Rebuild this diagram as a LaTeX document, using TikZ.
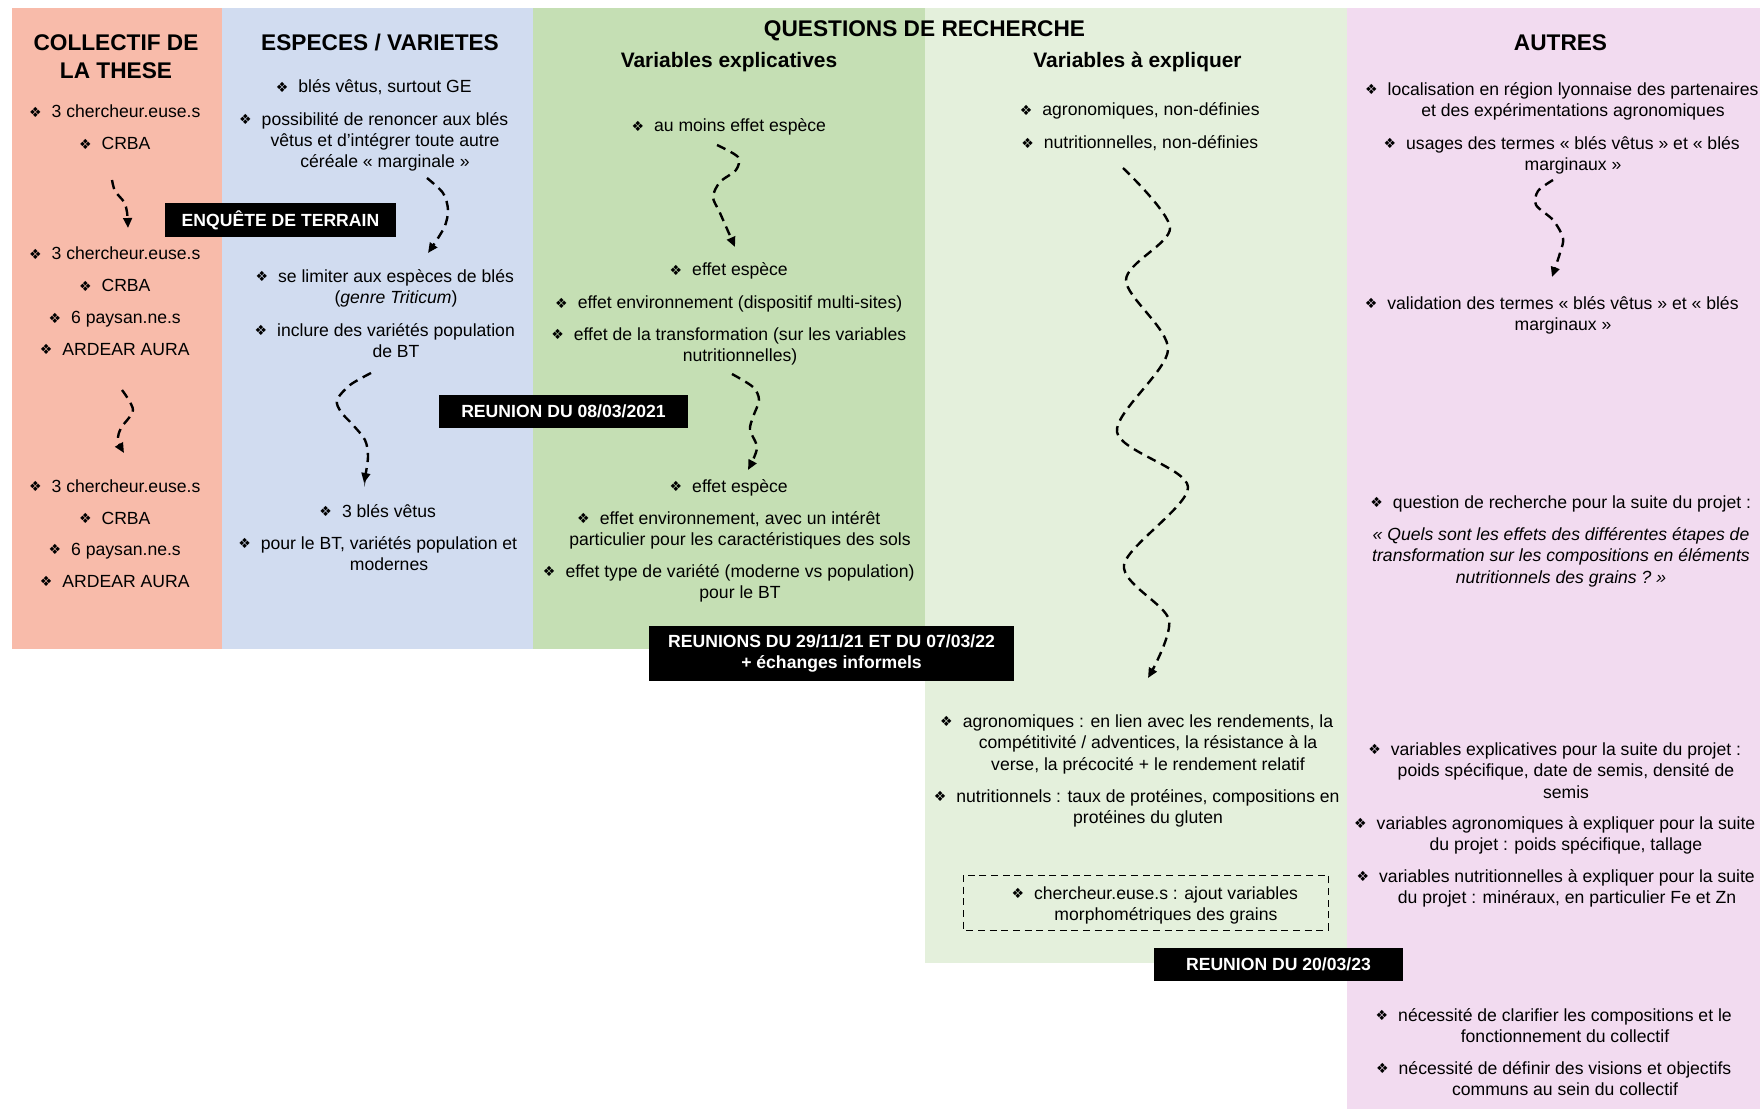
\documentclass[tikz,border=0pt]{standalone}
\usepackage{fontspec}
\setmainfont{Liberation Sans}
\newfontfamily\symfont{DejaVu Sans}
\usetikzlibrary{arrows.meta}

\definecolor{saumon}{HTML}{F8BBAA}
\definecolor{bleuclair}{HTML}{D1DCF0}
\definecolor{vertfonce}{HTML}{C5DFB4}
\definecolor{vertclair}{HTML}{E4F0DC}
\definecolor{rose}{HTML}{F2DBF0}

\begin{document}
\begin{tikzpicture}[x=0.75pt, y=-0.75pt,
    titre/.style={font=\fontsize{17}{21}\selectfont\bfseries, align=center, anchor=base, inner sep=0pt},
    soustitre/.style={font=\fontsize{15.7}{19}\selectfont\bfseries, anchor=base, inner sep=0pt},
    item/.style={font=\fontsize{13.2}{16.1}\selectfont, align=center, anchor=base, inner sep=0pt},
    etiquette/.style={fill=black, text=white, font=\fontsize{13.2}{16.1}\selectfont\bfseries, align=center, inner sep=0pt},
    fleche/.style={line width=1.8pt, dash pattern=on 7pt off 4.5pt, -{Triangle[length=7.5pt,width=6.5pt]}},
  ]

    \def\puce{\leavevmode\llap{\raisebox{0.3pt}{\symfont\fontsize{10.5}{10.5}\selectfont ❖}\hspace{7.5pt}}}

  \fill[white] (0,0) rectangle (1760,1109);
  \useasboundingbox (0,0) rectangle (1760,1109);

  % Colonnes
  \fill[saumon] (12,8) rectangle (222,649);
  \fill[bleuclair] (222,8) rectangle (533,649);
  \fill[vertfonce] (533,8) rectangle (925,649);
  \fill[vertclair] (925,8) rectangle (1347,963);
  \fill[rose] (1347,8) rectangle (1760,1109);

  % Titres (ancre base = derniere ligne)
  \node[titre] (tcol) at (116,79) {COLLECTIF DE\\LA THESE};
  \node[titre] (tesp) at (380,51) {ESPECES / VARIETES};
  \node[titre] (tqr) at (924.5,37) {QUESTIONS DE RECHERCHE};
  \node[soustitre] (tvex) at (729,68) {Variables explicatives};
  \node[soustitre] (tvae) at (1137.5,68) {Variables à expliquer};
  \node[titre] (taut) at (1560.5,51) {AUTRES};

  % Collectif
  \node[item] (s1) at (126,118) {\puce 3 chercheur.euse.s};
  \node[item] (s2) at (126,150) {\puce CRBA};
  \node[item] (s3) at (126,260) {\puce 3 chercheur.euse.s};
  \node[item] (s4) at (126,292) {\puce CRBA};
  \node[item] (s5) at (126,324) {\puce 6 paysan.ne.s};
  \node[item] (s6) at (126,355) {\puce ARDEAR AURA};
  \node[item] (s7) at (126,492) {\puce 3 chercheur.euse.s};
  \node[item] (s8) at (126,524) {\puce CRBA};
  \node[item] (s9) at (126,555) {\puce 6 paysan.ne.s};
  \node[item] (s10) at (126,587) {\puce ARDEAR AURA};

  % Especes / varietes
  \node[item] (b1) at (385,93) {\puce blés vêtus, surtout GE};
  \node[item] (b2) at (385,168) {\puce possibilité de renoncer aux blés\\vêtus et d’intégrer toute autre\\céréale «~marginale~»};
  \node[item] (b3) at (396,303.5) {\puce se limiter aux espèces de blés\\(\textit{genre Triticum})};
  \node[item] (b4) at (396,357.5) {\puce inclure des variétés population\\de BT};
  \node[item] (b5) at (389,517) {\puce 3 blés vêtus};
  \node[item] (b6) at (389,570.5) {\puce pour le BT, variétés population et\\modernes};

  % Variables explicatives
  \node[item] (g1) at (740,132) {\puce au moins effet espèce};
  \node[item] (g2) at (740,276) {\puce effet espèce};
  \node[item] (g3) at (740,309) {\puce effet environnement (dispositif multi-sites)};
  \node[item] (g4) at (740,361.5) {\puce effet de la transformation (sur les variables\\nutritionnelles)};
  \node[item] (g5) at (740,492) {\puce effet espèce};
  \node[item] (g6) at (740,545.5) {\puce effet environnement, avec un intérêt\\particulier pour les caractéristiques des sols};
  \node[item] (g7) at (740,598.5) {\puce effet type de variété (moderne vs population)\\pour le BT};

  % Variables a expliquer
  \node[item] (v1) at (1151,116) {\puce agronomiques, non-définies};
  \node[item] (v2) at (1151,149) {\puce nutritionnelles, non-définies};
  \node[item] (v3) at (1148,770) {\puce agronomiques : en lien avec les rendements, la\\compétitivité / adventices, la résistance à la\\verse, la précocité + le rendement relatif};
  \node[item] (v4) at (1148,823.5) {\puce nutritionnels : taux de protéines, compositions en\\protéines du gluten};
  \draw[line width=0.75pt, dash pattern=on 5.25pt off 3.5pt] (963,875) rectangle (1328,930);
  \node[item] (v5) at (1166,920.5) {\puce chercheur.euse.s : ajout variables\\morphométriques des grains};

  % Autres
  \node[item] (p1) at (1573,116.5) {\puce localisation en région lyonnaise des partenaires\\et des expérimentations agronomiques};
  \node[item] (p2) at (1573,170.5) {\puce usages des termes «~blés vêtus~» et «~blés\\marginaux~»};
  \node[item] (p3) at (1563,330.5) {\puce validation des termes «~blés vêtus~» et «~blés\\marginaux~»};
  \node[item] (p4) at (1572,508) {\puce question de recherche pour la suite du projet :};
  \node[item, font=\fontsize{13.2}{16.1}\selectfont\itshape] (p5) at (1561,583) {«~Quels sont les effets des différentes étapes de\\transformation sur les compositions en éléments\\nutritionnels des grains ?~»};
  \node[item] (p6) at (1566,798) {\puce variables explicatives pour la suite du projet :\\poids spécifique, date de semis, densité de\\semis};
  \node[item] (p7) at (1566,850.5) {\puce variables agronomiques à expliquer pour la suite\\du projet : poids spécifique, tallage};
  \node[item] (p8) at (1567,903.5) {\puce variables nutritionnelles à expliquer pour la suite\\du projet : minéraux, en particulier Fe et Zn};
  \node[item] (p9) at (1565,1042.5) {\puce nécessité de clarifier les compositions et le\\fonctionnement du collectif};
  \node[item] (p10) at (1565,1095.5) {\puce nécessité de définir des visions et objectifs\\communs au sein du collectif};

  % Fleches
  \coordinate (f1d) at (112,180);
  \coordinate (f1a) at (128,228);
  \draw[fleche] plot[smooth] coordinates {(f1d) (115,191) (124,202) (127,212) (f1a)};
  \coordinate (f2d) at (122,390);
  \coordinate (f2a) at (124,453);
  \draw[fleche] plot[smooth] coordinates {(f2d) (133,410) (121,428) (118,440) (f2a)};
  \coordinate (f3d) at (427,178);
  \coordinate (f3a) at (428,253);
  \draw[fleche] plot[smooth] coordinates {(f3d) (443,193) (448,210) (444,228) (f3a)};
  \coordinate (f4d) at (371,373);
  \coordinate (f4a) at (364,483);
  \draw[fleche] plot[smooth] coordinates {(f4d) (350,385) (337,400) (341,412) (353,425) (365,440) (368,457) (f4a)};
  \coordinate (f5d) at (717,145);
  \coordinate (f5a) at (735,247);
  \draw[fleche] plot[smooth] coordinates {(f5d) (738,157) (736,170) (720,182) (713,197) (720,213) (f5a)};
  \coordinate (f6d) at (732,374);
  \coordinate (f6a) at (748,470);
  \draw[fleche] plot[smooth] coordinates {(f6d) (753,387) (759,400) (753,417) (750,430) (757,448) (f6a)};
  \coordinate (f7d) at (1123,168);
  \coordinate (f7a) at (1148,678);
  \draw[fleche] plot[smooth] coordinates {(f7d) (1170,228) (1126,280) (1168,350) (1117,432) (1188,487) (1124,565) (1169,620) (f7a)};
  \coordinate (f8d) at (1553,180);
  \coordinate (f8a) at (1552,277);
  \draw[fleche] plot[smooth] coordinates {(f8d) (1538,191) (1536,205) (1553,220) (1563,238) (1560,253) (f8a)};

  % Reunions
  \node[etiquette, minimum width=173.25pt, minimum height=25.5pt] (enq) at (280.5,220) {ENQUÊTE DE TERRAIN};
  \node[etiquette, minimum width=186.75pt, minimum height=24.75pt] (r1) at (563.5,411.5) {REUNION DU 08/03/2021};
  \node[etiquette, minimum width=273.75pt, minimum height=41.25pt] (r2) at (831.5,653.5) {REUNIONS DU 29/11/21 ET DU 07/03/22\\+ échanges informels};
  \node[etiquette, minimum width=186.75pt, minimum height=24.75pt] (r3) at (1278.5,964.5) {REUNION DU 20/03/23};
  \end{tikzpicture}
\end{document}
